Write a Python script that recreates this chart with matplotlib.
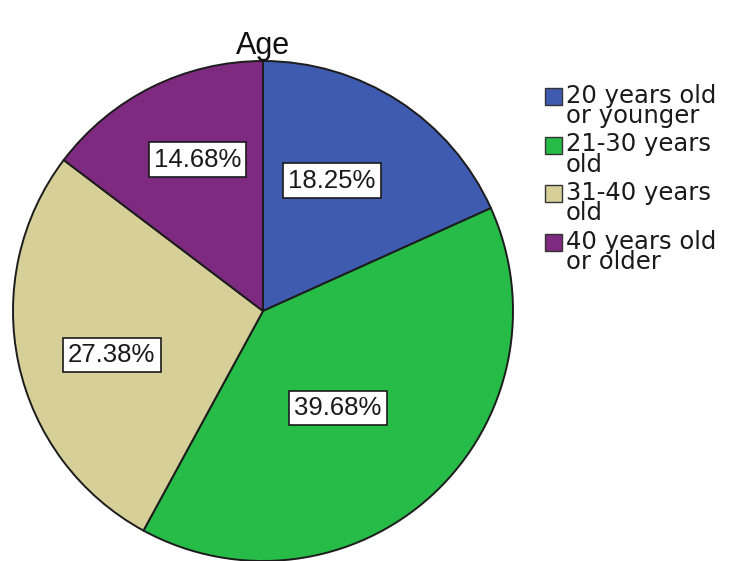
import numpy as np
import matplotlib.pyplot as plt
from matplotlib.patches import Rectangle

plt.rcParams['font.family'] = ['Liberation Sans', 'DejaVu Sans']

# age groups and their share of respondents (%)
categorias = ['20 years old\nor younger', '21-30 years\nold', '31-40 years\nold', '40 years old\nor older']
percentuais = [18.25, 39.68, 27.38, 14.68]
cores = ['#3f5bb0', '#27bb48', '#d6cf98', '#7e2a80']

# posicao dos rotulos: distancia ao centro (fracao do raio) e desvio do angulo medio (graus)
dist_rotulo = [0.59, 0.49, 0.63, 0.66]
desvio_rotulo = [5, -5, 4, -3]

W, H = 729, 561
fig = plt.figure(figsize=(W / 100, H / 100), dpi=100)
fig.patch.set_facecolor('white')
ax = fig.add_axes([13 / W, 0.0, 500 / W, 500 / H])

wedges, _ = ax.pie(percentuais, colors=cores, startangle=90, counterclock=False,
                   radius=1.0,
                   wedgeprops=dict(edgecolor='#1c1c1c', linewidth=1.4))

# rotulos com a porcentagem, em caixa branca
for w, p, d, dv in zip(wedges, percentuais, dist_rotulo, desvio_rotulo):
    ang = np.deg2rad((w.theta1 + w.theta2) / 2 + dv)
    ax.text(d * np.cos(ang), d * np.sin(ang), f'{p:.2f}%',
            ha='center', va='center', fontsize=18.5, color='#1a1a1a',
            bbox=dict(boxstyle='square,pad=0.2', facecolor='white',
                      edgecolor='#1a1a1a', linewidth=1.2))

ax.set_xlim(-1, 1)
ax.set_ylim(-1, 1)
ax.set_aspect('equal')
ax.axis('off')

fig.text(263 / W, 1 - 54 / H, 'Age', ha='center', va='baseline', fontsize=22, color='#111111')

# legenda desenhada a mao: quadrado + texto em duas linhas
lado = 17
for i, (nome, cor) in enumerate(zip(categorias, cores)):
    topo = 88 + i * 48.5
    fig.add_artist(Rectangle((545 / W, 1 - (topo + lado) / H), lado / W, lado / H,
                             transform=fig.transFigure, facecolor=cor,
                             edgecolor='#333333', linewidth=1.0))
    fig.text(566 / W, 1 - (topo - 4) / H, nome, ha='left', va='top',
             fontsize=17.5, family='DejaVu Sans', linespacing=0.8, color='#1a1a1a')

fig.savefig('out.png', dpi=100)
